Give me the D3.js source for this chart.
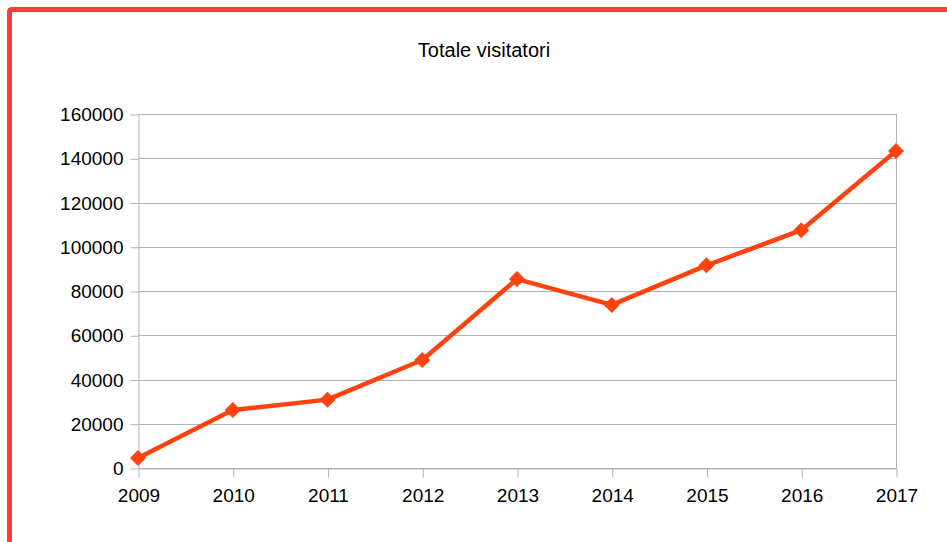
<!DOCTYPE html>
<html lang="it">
<head>
    <meta charset="UTF-8">
    <title>Totale visitatori</title>
    <style>
        body { margin: 0; background: #fff; }
        text { font-family: "Liberation Sans", Arial, sans-serif; fill: #000; }
    </style>
</head>
<body>
    <div id="wrapper"></div>
    <script src="https://d3js.org/d3.v7.min.js"></script>
    <script>
        // dati
        const years = ["2009", "2010", "2011", "2012", "2013", "2014", "2015", "2016", "2017"];
        const visitors = [4500, 26200, 30900, 48800, 85400, 73700, 91600, 107500, 143300];
        const yTicks = [0, 20000, 40000, 60000, 80000, 100000, 120000, 140000, 160000];
        const title = "Totale visitatori";

        const width = 947, height = 542;
        const plot = { left: 138, right: 896, top: 114, bottom: 468 };

        const svg = d3.select('#wrapper').append('svg')
            .attr('width', width)
            .attr('height', height);

        // cornice rossa
        svg.append('rect')
            .attr('x', 9.5).attr('y', 9.5)
            .attr('width', 1200).attr('height', 800)
            .attr('rx', 2)
            .attr('fill', 'none')
            .attr('stroke', '#ff3838')
            .attr('stroke-width', 5);

        const x = d3.scalePoint().domain(years).range([plot.left, plot.right]);
        const y = d3.scaleLinear().domain([0, 160000]).range([plot.bottom, plot.top]);

        // griglia orizzontale
        svg.append('g')
            .selectAll('line')
            .data(yTicks)
            .join('line')
            .attr('x1', plot.left).attr('x2', plot.right)
            .attr('y1', d => Math.round(y(d)) + 0.5)
            .attr('y2', d => Math.round(y(d)) + 0.5)
            .attr('stroke', '#b3b3b3');

        // asse Y
        const yAxis = d3.axisLeft(y)
            .tickValues(yTicks)
            .tickFormat(d3.format('d'))
            .tickSizeInner(8)
            .tickSizeOuter(0)
            .tickPadding(7);
        const gy = svg.append('g')
            .attr('transform', `translate(${plot.left + 0.5},0.5)`)
            .call(yAxis);
        gy.selectAll('text').style('font-size', '19px').attr('fill', '#000');

        // asse X
        const xAxis = d3.axisBottom(x)
            .tickSizeInner(9)
            .tickSizeOuter(0)
            .tickPadding(11);
        const gx = svg.append('g')
            .attr('transform', `translate(0.5,${plot.bottom + 0.5})`)
            .call(xAxis);
        gx.selectAll('text').style('font-size', '19px').attr('fill', '#000');

        svg.selectAll('.domain, .tick line').attr('stroke', '#b3b3b3');

        // bordo destro del grafico
        svg.append('line')
            .attr('x1', plot.right + 0.5).attr('x2', plot.right + 0.5)
            .attr('y1', plot.top).attr('y2', plot.bottom)
            .attr('stroke', '#b3b3b3');

        // titolo
        svg.append('text')
            .attr('x', 484).attr('y', 57)
            .attr('text-anchor', 'middle')
            .style('font-size', '20px')
            .text(title);

        // linea
        const line = d3.line()
            .x((d, i) => x(years[i]))
            .y(d => y(d));

        svg.append('path')
            .attr('d', line(visitors))
            .attr('fill', 'none')
            .attr('stroke', '#ff420e')
            .attr('stroke-width', 4.5)
            .attr('stroke-linejoin', 'round');

        // marcatori a rombo
        svg.append('g')
            .selectAll('path')
            .data(visitors)
            .join('path')
            .attr('transform', (d, i) => `translate(${x(years[i])},${y(d)})`)
            .attr('d', 'M0,-8L8,0L0,8L-8,0Z')
            .attr('fill', '#ff420e');
    </script>
</body>
</html>
